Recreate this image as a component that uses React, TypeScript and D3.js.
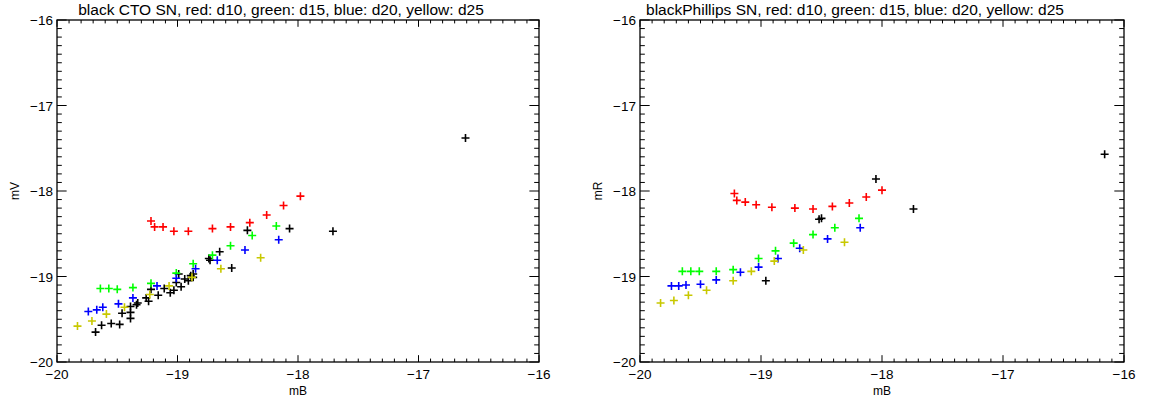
import React, { useEffect, useRef } from "react";
import * as d3 from "d3";

type Pt = [number, number];

// Left panel: CTO SN (mB vs mV)
const leftBlack: Pt[] = [
  [-19.68, -19.65], [-19.63, -19.57], [-19.55, -19.55], [-19.48, -19.56], [-19.39, -19.49],
  [-19.39, -19.42], [-19.46, -19.43], [-19.39, -19.35], [-19.34, -19.33], [-19.33, -19.31],
  [-19.26, -19.25], [-19.24, -19.29], [-19.16, -19.22], [-19.22, -19.15], [-19.11, -19.14],
  [-19.06, -19.19], [-19.03, -19.16], [-19.01, -19.07], [-18.99, -18.97], [-18.97, -19.12],
  [-18.94, -19.03], [-18.91, -19.05], [-18.89, -18.99], [-18.87, -19.01], [-18.87, -18.97],
  [-18.74, -18.79], [-18.73, -18.81], [-18.65, -18.71], [-18.55, -18.9], [-18.42, -18.46],
  [-18.07, -18.44], [-17.71, -18.47], [-16.61, -17.38],
];
const leftRed: Pt[] = [
  [-19.22, -18.35], [-19.19, -18.42], [-19.12, -18.42], [-19.03, -18.47], [-18.91, -18.47],
  [-18.71, -18.44], [-18.56, -18.42], [-18.4, -18.37], [-18.26, -18.28], [-18.12, -18.17],
  [-17.98, -18.06],
];
const leftGreen: Pt[] = [
  [-19.64, -19.14], [-19.57, -19.14], [-19.5, -19.15], [-19.37, -19.13], [-19.22, -19.08],
  [-19.01, -18.96], [-18.87, -18.85], [-18.71, -18.75], [-18.56, -18.64], [-18.38, -18.52],
  [-18.18, -18.41],
];
const leftBlue: Pt[] = [
  [-19.74, -19.41], [-19.67, -19.39], [-19.62, -19.36], [-19.49, -19.32], [-19.37, -19.25],
  [-19.17, -19.11], [-19.01, -19.02], [-18.85, -18.91], [-18.67, -18.81], [-18.44, -18.69],
  [-18.16, -18.57],
];
const leftYellow: Pt[] = [
  [-19.83, -19.58], [-19.71, -19.52], [-19.59, -19.44], [-19.44, -19.36], [-19.23, -19.21],
  [-19.07, -19.11], [-18.88, -19.01], [-18.64, -18.91], [-18.31, -18.78],
];

// Right panel: Phillips SN (mB vs mR)
const rightBlack: Pt[] = [
  [-18.96, -19.05], [-18.52, -18.33], [-18.5, -18.32], [-18.05, -17.86], [-17.74, -18.21],
  [-16.16, -17.57],
];
const rightRed: Pt[] = [
  [-19.22, -18.03], [-19.2, -18.11], [-19.13, -18.13], [-19.04, -18.16], [-18.91, -18.19],
  [-18.72, -18.2], [-18.57, -18.21], [-18.41, -18.18], [-18.27, -18.14], [-18.13, -18.07],
  [-18.0, -17.99],
];
const rightGreen: Pt[] = [
  [-19.65, -18.94], [-19.58, -18.94], [-19.51, -18.94], [-19.37, -18.94], [-19.23, -18.92],
  [-19.02, -18.79], [-18.88, -18.7], [-18.73, -18.61], [-18.57, -18.51], [-18.39, -18.43],
  [-18.19, -18.32],
];
const rightBlue: Pt[] = [
  [-19.74, -19.11], [-19.68, -19.11], [-19.62, -19.1], [-19.5, -19.09], [-19.37, -19.04],
  [-19.17, -18.95], [-19.02, -18.89], [-18.86, -18.79], [-18.68, -18.67], [-18.45, -18.56],
  [-18.18, -18.43],
];
const rightYellow: Pt[] = [
  [-19.83, -19.31], [-19.72, -19.28], [-19.6, -19.22], [-19.45, -19.16], [-19.23, -19.05],
  [-19.08, -18.94], [-18.89, -18.82], [-18.65, -18.69], [-18.31, -18.6],
];

const xTicks = [-20, -19, -18, -17, -16];
const yTicks = [-20, -19, -18, -17, -16];
const xDomain: [number, number] = [-20, -16];
const yDomain: [number, number] = [-20, -16];

const COLORS = {
  black: "#000000",
  red: "#ff0000",
  green: "#00ff00",
  blue: "#0000ff",
  yellow: "#c8c800",
};

interface Panel {
  title: string;
  titleX: number;
  ylabel: string;
  xlabel: string;
  left: number;
  right: number;
  series: { color: string; data: Pt[] }[];
}

const panels: Panel[] = [
  {
    title: "black CTO SN, red: d10, green: d15, blue: d20, yellow: d25",
    titleX: 281,
    ylabel: "mV",
    xlabel: "mB",
    left: 57,
    right: 539,
    series: [
      { color: COLORS.black, data: leftBlack },
      { color: COLORS.red, data: leftRed },
      { color: COLORS.green, data: leftGreen },
      { color: COLORS.blue, data: leftBlue },
      { color: COLORS.yellow, data: leftYellow },
    ],
  },
  {
    title: "blackPhillips SN, red: d10, green: d15, blue: d20, yellow: d25",
    titleX: 855,
    ylabel: "mR",
    xlabel: "mB",
    left: 640,
    right: 1124,
    series: [
      { color: COLORS.black, data: rightBlack },
      { color: COLORS.red, data: rightRed },
      { color: COLORS.green, data: rightGreen },
      { color: COLORS.blue, data: rightBlue },
      { color: COLORS.yellow, data: rightYellow },
    ],
  },
];

const W = 1149;
const H = 403;
const TOP = 20;
const BOTTOM = 362;
const FONT = "'Liberation Sans', Arial, Helvetica, sans-serif";

const fmt = (v: number) => (v < 0 ? "\u2212" + Math.abs(v) : String(v));

export default function App() {
  const ref = useRef<SVGSVGElement>(null);

  useEffect(() => {
    const svg = d3.select(ref.current);
    svg.selectAll("*").remove();
    svg.append("rect").attr("width", W).attr("height", H).attr("fill", "#fff");

    panels.forEach((p) => {
      const x = d3.scaleLinear().domain(xDomain).range([p.left, p.right]);
      const y = d3.scaleLinear().domain(yDomain).range([BOTTOM, TOP]);
      const g = svg.append("g");
      const pw = p.right - p.left;
      const ph = BOTTOM - TOP;
      const xMaj = 0.02 * ph;
      const yMaj = 0.02 * pw;

      const xMinor = d3.range(0, 41).map((i) => xDomain[0] + i * 0.1);
      const yMinor = d3.range(0, 41).map((i) => yDomain[0] + i * 0.1);
      xMinor.forEach((v, i) => {
        const len = i % 10 === 0 ? xMaj : xMaj / 2;
        const px = x(v);
        g.append("line").attr("x1", px).attr("x2", px).attr("y1", BOTTOM).attr("y2", BOTTOM - len)
          .attr("stroke", "#000").attr("stroke-width", 1);
        g.append("line").attr("x1", px).attr("x2", px).attr("y1", TOP).attr("y2", TOP + len)
          .attr("stroke", "#000").attr("stroke-width", 1);
      });
      yMinor.forEach((v, i) => {
        const len = i % 10 === 0 ? yMaj : yMaj / 2;
        const py = y(v);
        g.append("line").attr("x1", p.left).attr("x2", p.left + len).attr("y1", py).attr("y2", py)
          .attr("stroke", "#000").attr("stroke-width", 1);
        g.append("line").attr("x1", p.right).attr("x2", p.right - len).attr("y1", py).attr("y2", py)
          .attr("stroke", "#000").attr("stroke-width", 1);
      });

      g.append("rect").attr("x", p.left).attr("y", TOP).attr("width", pw).attr("height", ph)
        .attr("fill", "none").attr("stroke", "#000").attr("stroke-width", 1.3);

      xTicks.forEach((v) => {
        g.append("text").attr("x", x(v)).attr("y", BOTTOM + 17).attr("text-anchor", "middle")
          .attr("font-family", FONT).attr("font-size", 13.5).attr("fill", "#000").text(fmt(v));
      });
      yTicks.forEach((v) => {
        g.append("text").attr("x", p.left - 4).attr("y", y(v) + 5).attr("text-anchor", "end")
          .attr("font-family", FONT).attr("font-size", 13.5).attr("fill", "#000").text(fmt(v));
      });

      g.append("text").attr("x", p.titleX).attr("y", 15).attr("text-anchor", "middle")
        .attr("font-family", FONT).attr("font-size", 15.5).attr("fill", "#000").text(p.title);
      g.append("text").attr("x", (p.left + p.right) / 2).attr("y", 395).attr("text-anchor", "middle")
        .attr("font-family", FONT).attr("font-size", 12).attr("fill", "#000").text(p.xlabel);
      g.append("text")
        .attr("transform", `translate(${p.left - 38},${(TOP + BOTTOM) / 2}) rotate(-90)`)
        .attr("text-anchor", "middle").attr("font-family", FONT).attr("font-size", 12)
        .attr("fill", "#000").text(p.ylabel);

      const s = 4;
      p.series.forEach((ser) => {
        const pts = g.append("g").attr("stroke", ser.color).attr("stroke-width", 1.6);
        ser.data.forEach(([a, b]) => {
          const px = x(a);
          const py = y(b);
          pts.append("path").attr("d", `M${px - s},${py}H${px + s}M${px},${py - s}V${py + s}`);
        });
      });
    });
  }, []);

  return (
    <svg ref={ref} width={W} height={H} style={{ display: "block", position: "absolute", left: 0, top: 0 }} />
  );
}
